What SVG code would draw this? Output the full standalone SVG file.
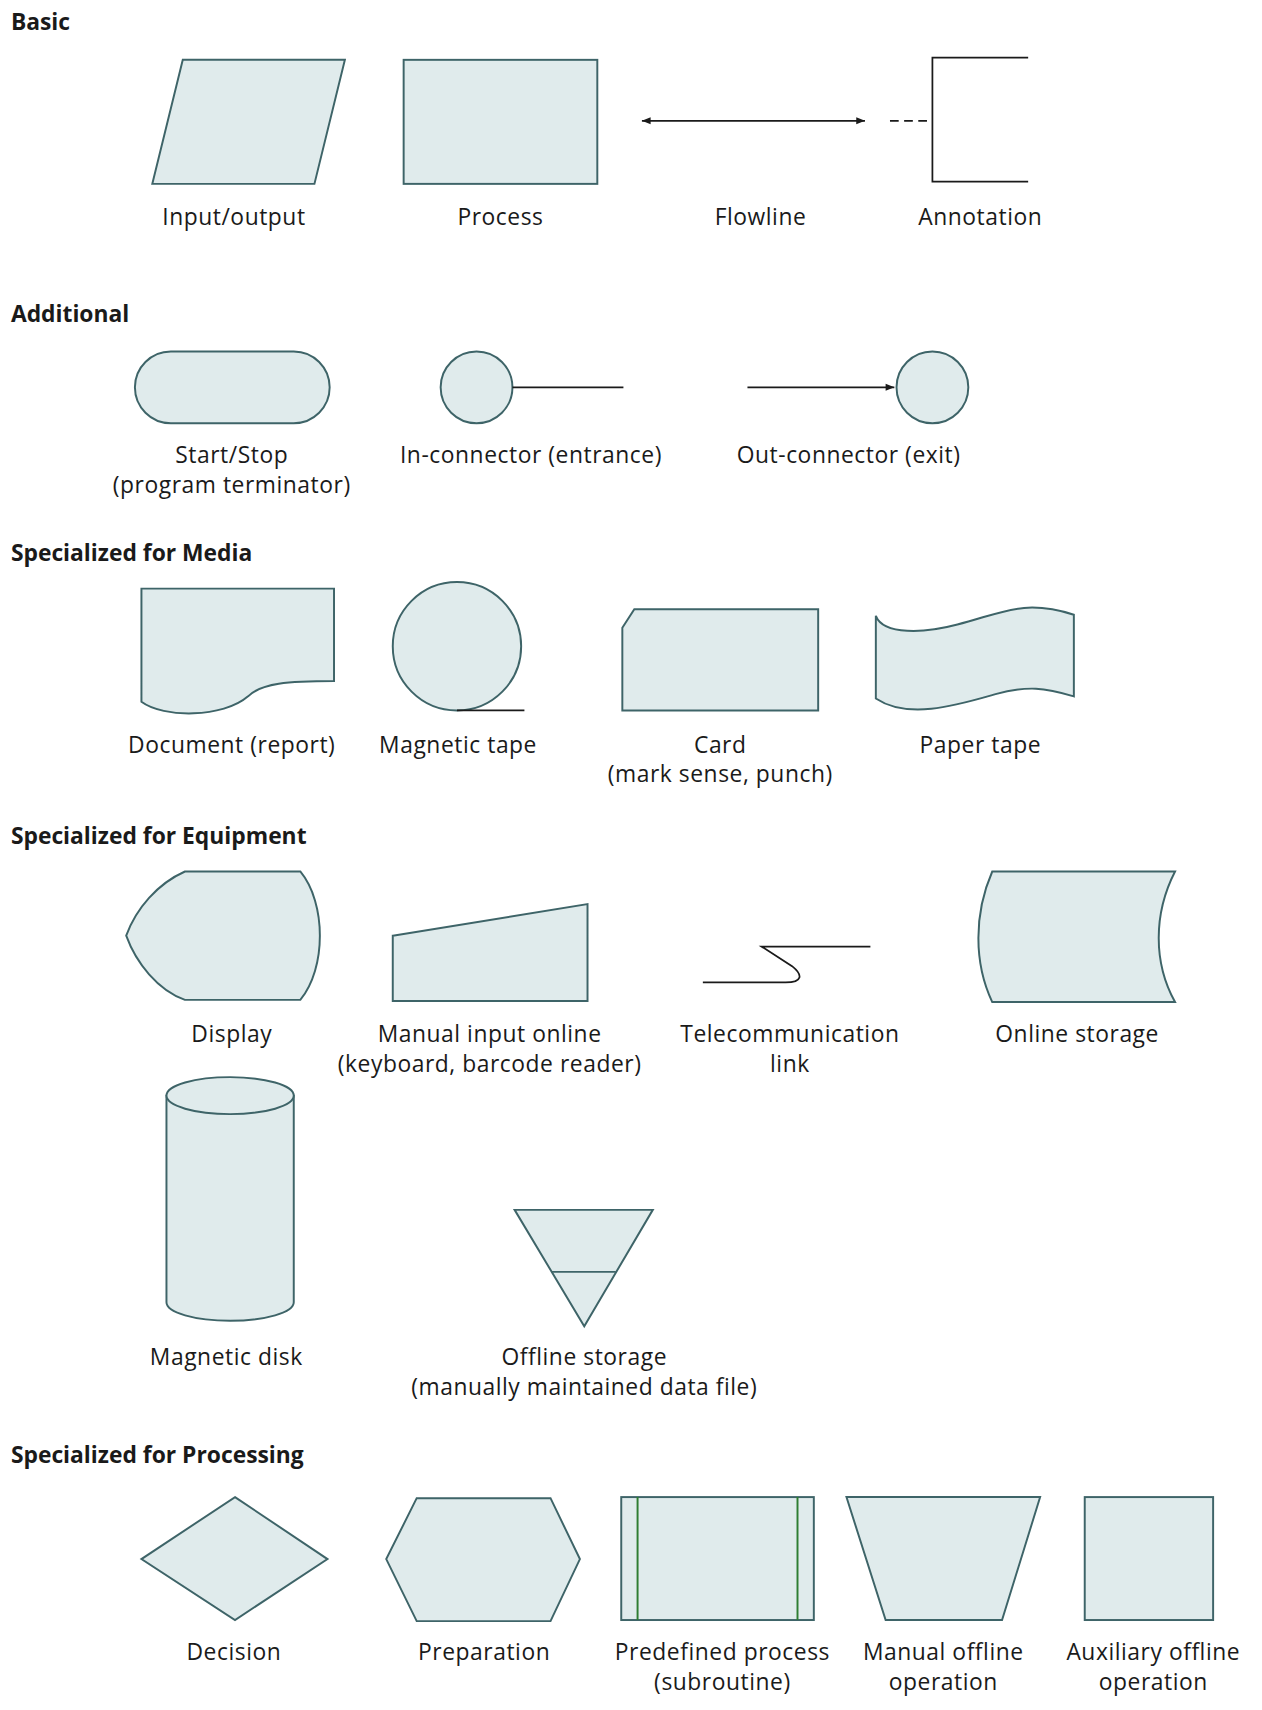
<svg xmlns="http://www.w3.org/2000/svg" width="1262" height="1710" viewBox="0 0 1262 1710">
<style>
.s{fill:#e0ebec;stroke:#3e6468;stroke-width:1.8;stroke-linejoin:miter}
.l{fill:none;stroke:#1a1a1a;stroke-width:1.6}
.h{font-family:"Open Sans","Liberation Sans",sans-serif;font-weight:bold;font-size:21px;fill:#1a1a1a}
.t{font-family:"Open Sans","Liberation Sans",sans-serif;font-size:21px;fill:#1a1a1a;text-anchor:middle;letter-spacing:0.5px}
</style>
<defs>
<marker id="a" viewBox="0 0 10 10" refX="10" refY="5" markerWidth="10" markerHeight="8" orient="auto-start-reverse" markerUnits="userSpaceOnUse"><path d="M0,1 L10,5 L0,9 Z" fill="#1a1a1a"/></marker>
</defs>
<rect width="1262" height="1710" fill="#fff"/>
<g transform="scale(1.088)">
<text class="h" x="10" y="28">Basic</text>
<text class="h" x="10" y="296">Additional</text>
<text class="h" x="10" y="516">Specialized for Media</text>
<text class="h" x="10" y="776">Specialized for Equipment</text>
<text class="h" x="10" y="1345">Specialized for Processing</text>

<g id="io"><polygon class="s" points="168,55 317,55 289,169 140,169"/><text class="t" x="215" y="207">Input/output</text></g>
<g id="process"><rect class="s" x="371" y="55" width="178" height="114"/><text class="t" x="460" y="207">Process</text></g>
<g id="flowline"><text class="t" x="699" y="207">Flowline</text></g>
<g id="annotation"><path class="l" d="M945,53 H857 V167 H945"/><text class="t" x="901" y="207">Annotation</text></g>

<g id="terminator"><rect class="s" x="124" y="323" width="179" height="66" rx="33"/><text class="t" x="213" y="426">Start/Stop</text><text class="t" x="213" y="453">(program terminator)</text></g>
<g id="inconn"><circle class="s" cx="438" cy="356" r="33"/><text class="t" x="488" y="426">In-connector (entrance)</text></g>
<g id="outconn"><circle class="s" cx="857" cy="356" r="33"/><text class="t" x="780" y="426">Out-connector (exit)</text></g>

<g id="document"><path class="s" d="M130,541 H307 V626 C265,626 240,628 228,640 C205,660 150,660 130,645 Z"/><text class="t" x="213" y="692">Document (report)</text></g>
<g id="magtape"><circle class="s" cx="420" cy="594" r="59"/><path class="l" d="M420,653 H482"/><text class="t" x="421" y="692">Magnetic tape</text></g>
<g id="card"><path class="s" d="M583,560 H752 V653 H572 V577 Z"/><text class="t" x="662" y="692">Card</text><text class="t" x="662" y="719">(mark sense, punch)</text></g>
<g id="papertape"><path class="s" d="M805,566 C812,584 850,582 880,574 C920,564 940,550 987,565 V640 C960,632 945,630 915,638 C880,648 835,662 805,642 Z"/><text class="t" x="901" y="692">Paper tape</text></g>

<g id="display"><path class="s" d="M170,801 H276 C300,830 300,890 276,919 H170 C145,910 125,885 116,860 C125,835 145,812 170,801 Z"/><text class="t" x="213" y="958">Display</text></g>
<g id="manualinput"><polygon class="s" points="361,860 540,831 540,920 361,920"/><text class="t" x="450" y="958">Manual input online</text><text class="t" x="450" y="985">(keyboard, barcode reader)</text></g>
<g id="telecom"><path class="l" d="M646,903 H722 C738,903 738,896 728,888 L700,870 H800"/><text class="t" x="726" y="958">Telecommunication</text><text class="t" x="726" y="985">link</text></g>
<g id="onlinestorage"><path class="s" d="M912,801 H1080 C1060,840 1060,885 1080,921 H912 C895,885 895,840 912,801 Z"/><text class="t" x="990" y="958">Online storage</text></g>

<g id="magdisk"><path class="s" d="M153,1007 V1197 A58.5,17 0 0 0 270,1197 V1007 Z"/><ellipse class="s" cx="211.5" cy="1007" rx="58.5" ry="17"/><text class="t" x="208" y="1255">Magnetic disk</text></g>
<g id="offline"><polygon class="s" points="473,1112 600,1112 537,1219"/><path class="s" d="M507,1169 H566"/><text class="t" x="537" y="1255">Offline storage</text><text class="t" x="537" y="1282">(manually maintained data file)</text></g>

<g id="decision"><polygon class="s" points="216,1376 301,1433 216,1489 130,1433"/><text class="t" x="215" y="1526">Decision</text></g>
<g id="preparation"><polygon class="s" points="383,1377 506,1377 533,1433 506,1490 383,1490 355,1433"/><text class="t" x="445" y="1526">Preparation</text></g>
<g id="predefined"><rect class="s" x="571" y="1376" width="177" height="113"/><path d="M586,1376 V1489 M733,1376 V1489" stroke="#2e7d32" stroke-width="1.8"/><text class="t" x="664" y="1526">Predefined process</text><text class="t" x="664" y="1553">(subroutine)</text></g>
<g id="manualoffline"><polygon class="s" points="778,1376 956,1376 921,1489 814,1489"/><text class="t" x="867" y="1526">Manual offline</text><text class="t" x="867" y="1553">operation</text></g>
<g id="auxiliary"><rect class="s" x="997" y="1376" width="118" height="113"/><text class="t" x="1060" y="1526">Auxiliary offline</text><text class="t" x="1060" y="1553">operation</text></g>

<g id="connectors">
<path class="l" d="M590,111 H795" marker-start="url(#a)" marker-end="url(#a)"/>
<path class="l" d="M818,111 H857" stroke-dasharray="8,5"/>
<path class="l" d="M471,356 H573"/>
<path class="l" d="M687,356 H822" marker-end="url(#a)"/>
</g>
</g>
</svg>
